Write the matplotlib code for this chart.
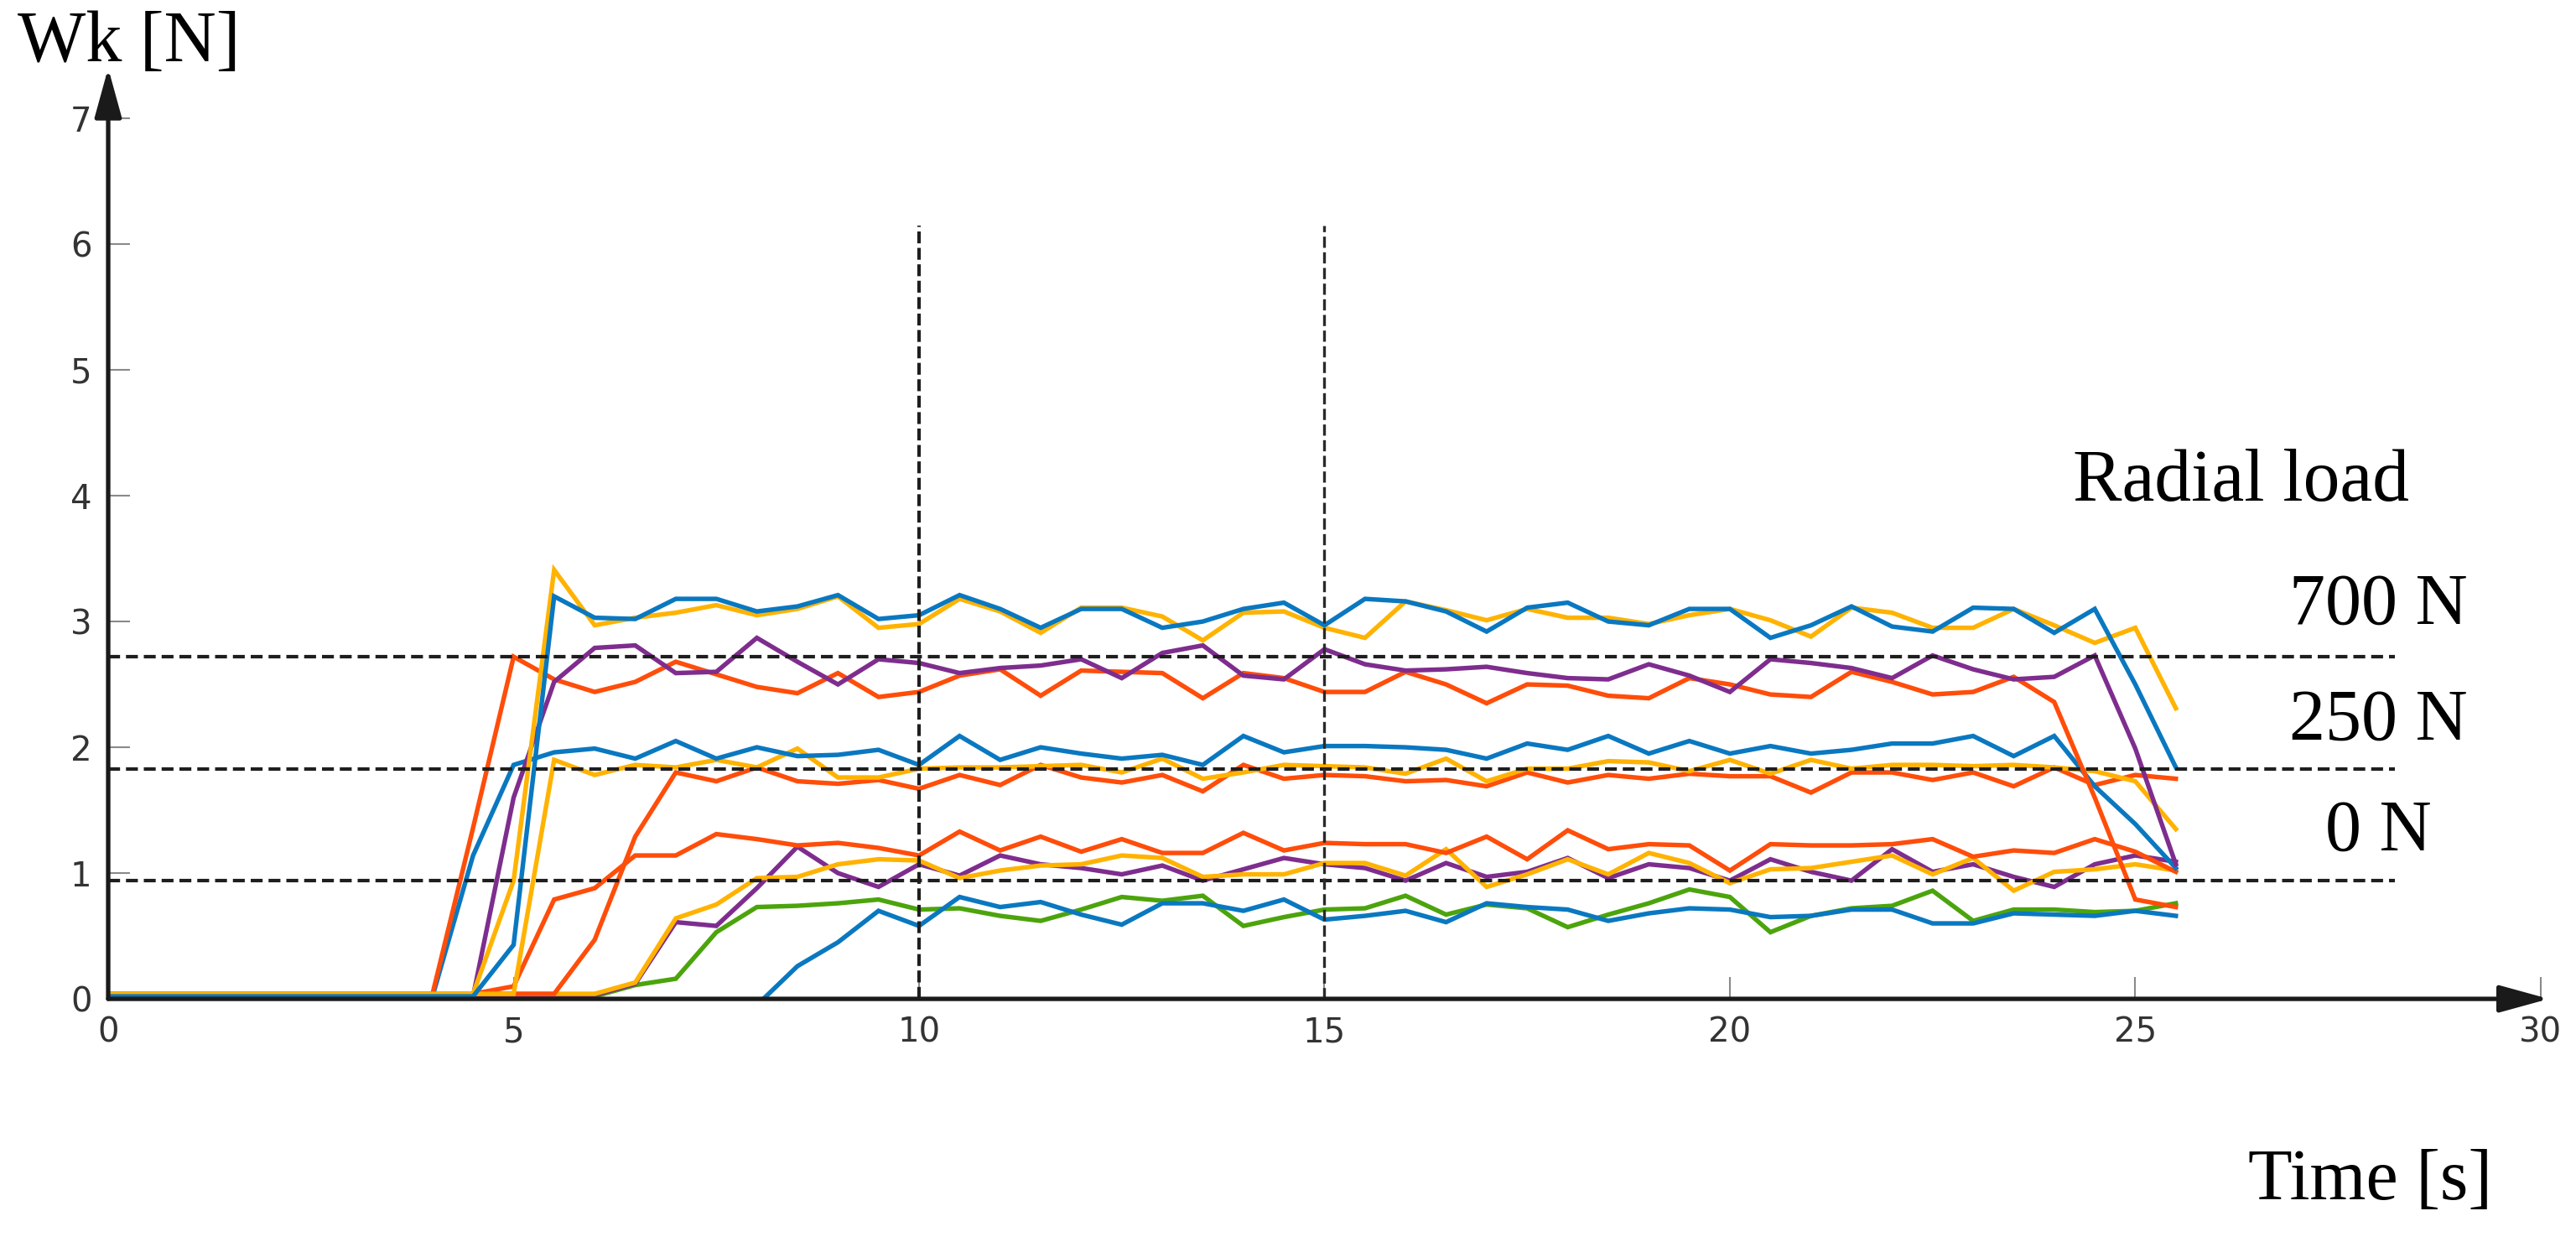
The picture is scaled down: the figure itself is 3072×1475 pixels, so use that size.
import numpy as np
import matplotlib
matplotlib.use("Agg")
from matplotlib import pyplot as plt

# sampling grid, 0.5 s steps from 0 to 25.5 s
time = np.arange(0, 26, 0.5)

nan = np.nan

# Wk [N] readings, one list per trace (rows of 10 samples: 0-4.5, 5-9.5, 10-14.5, 15-19.5, 20-24.5, 25-25.5 s)
blue_a = [0.02, 0.02, 0.02, 0.02, 0.02, 0.02, 0.02, 0.02, 0.02, 0.02,
          0.43, 3.20, 3.03, 3.02, 3.18, 3.18, 3.08, 3.12, 3.21, 3.02,
          3.05, 3.21, 3.10, 2.95, 3.10, 3.10, 2.95, 3.00, 3.10, 3.15,
          2.97, 3.18, 3.16, 3.08, 2.92, 3.11, 3.15, 3.00, 2.97, 3.10,
          3.10, 2.87, 2.97, 3.12, 2.96, 2.92, 3.11, 3.10, 2.91, 3.10,
          2.50, 1.84]
yellow_a = [0.04, 0.04, 0.04, 0.04, 0.04, 0.04, 0.04, 0.04, 0.04, 0.04,
            0.94, 3.41, 2.97, 3.03, 3.07, 3.13, 3.05, 3.10, 3.20, 2.95,
            2.98, 3.18, 3.08, 2.91, 3.11, 3.11, 3.04, 2.85, 3.07, 3.08,
            2.95, 2.87, 3.16, 3.09, 3.01, 3.10, 3.03, 3.03, 2.98, 3.05,
            3.10, 3.01, 2.88, 3.11, 3.07, 2.95, 2.95, 3.10, 2.97, 2.83,
            2.95, 2.31]
purple_a = [0.02, 0.02, 0.02, 0.02, 0.02, 0.02, 0.02, 0.02, 0.02, 0.02,
            1.60, 2.52, 2.79, 2.81, 2.59, 2.60, 2.87, 2.68, 2.50, 2.70,
            2.67, 2.59, 2.63, 2.65, 2.70, 2.55, 2.75, 2.81, 2.57, 2.54,
            2.78, 2.66, 2.61, 2.62, 2.64, 2.59, 2.55, 2.54, 2.66, 2.57,
            2.44, 2.70, 2.67, 2.63, 2.55, 2.73, 2.62, 2.54, 2.56, 2.73,
            1.99, 1.07]
red_a = [0.04, 0.04, 0.04, 0.04, 0.04, 0.04, 0.04, 0.04, 0.04, 1.36,
         2.72, 2.54, 2.44, 2.52, 2.68, 2.58, 2.48, 2.43, 2.59, 2.40,
         2.44, 2.57, 2.62, 2.41, 2.61, 2.60, 2.59, 2.39, 2.59, 2.55,
         2.44, 2.44, 2.60, 2.50, 2.35, 2.50, 2.49, 2.41, 2.39, 2.55,
         2.50, 2.42, 2.40, 2.60, 2.52, 2.42, 2.44, 2.56, 2.36, 1.60,
         0.79, 0.73]
blue_b = [0.02, 0.02, 0.02, 0.02, 0.02, 0.02, 0.02, 0.02, 0.02, 1.14,
          1.86, 1.96, 1.99, 1.91, 2.05, 1.91, 2.00, 1.93, 1.94, 1.98,
          1.86, 2.09, 1.90, 2.00, 1.95, 1.91, 1.94, 1.86, 2.09, 1.96,
          2.01, 2.01, 2.00, 1.98, 1.91, 2.03, 1.98, 2.09, 1.95, 2.05,
          1.95, 2.01, 1.95, 1.98, 2.03, 2.03, 2.09, 1.93, 2.09, 1.69,
          1.39, 1.04]
yellow_b = [0.04, 0.04, 0.04, 0.04, 0.04, 0.04, 0.04, 0.04, 0.04, 0.04,
            0.04, 1.90, 1.78, 1.86, 1.84, 1.90, 1.84, 1.99, 1.76, 1.76,
            1.83, 1.84, 1.84, 1.85, 1.86, 1.80, 1.91, 1.75, 1.80, 1.86,
            1.85, 1.84, 1.79, 1.91, 1.73, 1.83, 1.83, 1.89, 1.88, 1.81,
            1.90, 1.79, 1.90, 1.83, 1.86, 1.86, 1.85, 1.86, 1.84, 1.81,
            1.73, 1.35]
red_b = [0.04, 0.04, 0.04, 0.04, 0.04, 0.04, 0.04, 0.04, 0.04, 0.04,
         0.04, 0.04, 0.47, 1.29, 1.80, 1.73, 1.84, 1.73, 1.71, 1.74,
         1.67, 1.78, 1.70, 1.86, 1.76, 1.72, 1.78, 1.65, 1.86, 1.75,
         1.78, 1.77, 1.73, 1.74, 1.69, 1.80, 1.72, 1.78, 1.75, 1.79,
         1.77, 1.77, 1.64, 1.80, 1.80, 1.74, 1.80, 1.69, 1.84, 1.70,
         1.78, 1.75]
red_c = [0.04, 0.04, 0.04, 0.04, 0.04, 0.04, 0.04, 0.04, 0.04, 0.04,
         0.10, 0.79, 0.88, 1.14, 1.14, 1.31, 1.27, 1.22, 1.24, 1.20,
         1.14, 1.33, 1.18, 1.29, 1.17, 1.27, 1.16, 1.16, 1.32, 1.18,
         1.24, 1.23, 1.23, 1.16, 1.29, 1.11, 1.34, 1.19, 1.23, 1.22,
         1.02, 1.23, 1.22, 1.22, 1.23, 1.27, 1.13, 1.18, 1.16, 1.27,
         1.17, 1.01]
yellow_c = [0.04, 0.04, 0.04, 0.04, 0.04, 0.04, 0.04, 0.04, 0.04, 0.04,
            0.04, 0.04, 0.04, 0.13, 0.64, 0.75, 0.96, 0.97, 1.07, 1.11,
            1.10, 0.96, 1.02, 1.06, 1.07, 1.14, 1.12, 0.97, 0.99, 0.99,
            1.08, 1.08, 0.98, 1.19, 0.89, 0.99, 1.11, 0.99, 1.16, 1.08,
            0.92, 1.03, 1.04, 1.09, 1.14, 0.99, 1.12, 0.86, 1.01, 1.03,
            1.07, 1.02]
purple_b = [0.02, 0.02, 0.02, 0.02, 0.02, 0.02, 0.02, 0.02, 0.02, 0.02,
            0.02, 0.02, 0.03, 0.12, 0.61, 0.58, 0.88, 1.21, 1.00, 0.89,
            1.07, 0.98, 1.14, 1.07, 1.04, 0.99, 1.06, 0.94, 1.03, 1.12,
            1.07, 1.04, 0.94, 1.08, 0.97, 1.01, 1.12, 0.96, 1.07, 1.04,
            0.94, 1.11, 1.01, 0.94, 1.19, 1.01, 1.07, 0.97, 0.89, 1.07,
            1.14, 1.09]
green = [0.02, 0.02, 0.02, 0.02, 0.02, 0.02, 0.02, 0.02, 0.02, 0.02,
         0.02, 0.02, 0.02, 0.11, 0.16, 0.53, 0.73, 0.74, 0.76, 0.79,
         0.71, 0.72, 0.66, 0.62, 0.71, 0.81, 0.78, 0.82, 0.58, 0.65,
         0.71, 0.72, 0.82, 0.67, 0.75, 0.72, 0.57, 0.67, 0.76, 0.87,
         0.81, 0.53, 0.66, 0.72, 0.74, 0.86, 0.62, 0.71, 0.71, 0.69,
         0.70, 0.76]
blue_c = [nan, nan, nan, nan, nan, nan, nan, nan, nan, nan,
          nan, nan, nan, nan, nan, nan, -0.05, 0.26, 0.45, 0.70,
          0.58, 0.81, 0.73, 0.77, 0.67, 0.59, 0.76, 0.76, 0.70, 0.79,
          0.63, 0.66, 0.70, 0.61, 0.76, 0.73, 0.71, 0.62, 0.68, 0.72,
          0.71, 0.65, 0.66, 0.71, 0.71, 0.60, 0.60, 0.68, 0.67, 0.66,
          0.70, 0.66]

mean_levels = [0.94, 1.83, 2.72]
marker_times = [10, 15]
load_labels = ["700 N", "250 N", "0 N"]
load_label_y = [2.98, 2.06, 1.18]

BLUE = "#0A78C0"
RED = "#FF4D0A"
YELLOW = "#FFB300"
PURPLE = "#7E2D8E"
GREEN = "#4CA40C"

traces = [
    (green, GREEN), (blue_c, BLUE), (purple_b, PURPLE), (yellow_c, YELLOW),
    (red_c, RED), (red_b, RED), (yellow_b, YELLOW), (blue_b, BLUE),
    (red_a, RED), (purple_a, PURPLE), (yellow_a, YELLOW), (blue_a, BLUE),
]

fig = plt.figure(figsize=(30.72, 14.75), dpi=100)
ax = fig.add_axes([0.042, 0.1925, 0.9506, 0.7525])

for vals, col in traces:
    ax.plot(time, vals, color=col, lw=3.9, solid_joinstyle="miter")

ax.hlines(mean_levels, 0, 28.2, colors="#1e1e1e", lw=3.0, linestyles=[(0, (3.4, 1.7))])
ax.vlines(marker_times[0], 0, 6.15, colors="#1e1e1e", lw=3.0, linestyles=[(0, (3.4, 1.3))])
ax.vlines(marker_times[1], 0, 6.15, colors="#2a2a2a", lw=2.4, linestyles=[(0, (4.0, 1.6))])

ax.set_xlim(0, 30.2)
ax.set_ylim(0, 7.4)
ax.set_xticks(range(0, 31, 5))
ax.set_yticks(range(0, 8))
for s in ax.spines.values():
    s.set_visible(False)
ax.tick_params(direction="in", length=19, width=1.5, color="#8a8a8a",
               labelsize=29, labelcolor="#333333")
ax.tick_params(axis="x", pad=15)
ax.tick_params(axis="y", pad=14)

# axes with arrow heads
arrow = dict(arrowstyle="-|>,head_length=0.8,head_width=0.22", lw=3.8,
             color="#1a1a1a", mutation_scale=45, shrinkA=0, shrinkB=0)
ax.annotate("", xy=(30.1, 0), xytext=(0, 0), arrowprops=arrow, annotation_clip=False)
ax.annotate("", xy=(0, 7.4), xytext=(0, 0), arrowprops=arrow, annotation_clip=False)

serif = "Liberation Serif"
ax.text(24.23, 3.96, "Radial load", fontsize=63, family=serif, va="baseline")
for lab, yy in zip(load_labels, load_label_y):
    ax.text(28.0, yy, lab, fontsize=62, family=serif, va="baseline", ha="center")

fig.text(0.0068, 0.9505, "Wk [N]", fontsize=62, family=serif, va="baseline")
fig.text(0.8727, 0.0305, "Time [s]", fontsize=62, family=serif, va="baseline")

fig.savefig("out.png", dpi=100)
